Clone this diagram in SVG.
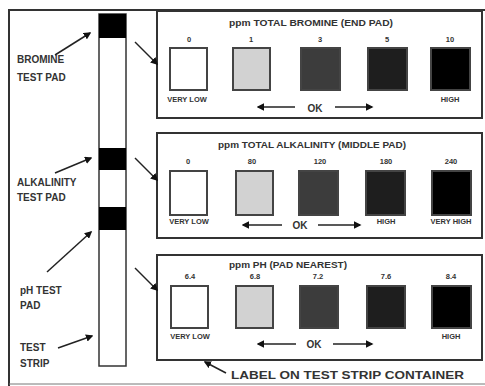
<svg xmlns="http://www.w3.org/2000/svg" width="485" height="386" viewBox="0 0 485 386">
<style>
.t{font-family:"Liberation Sans",Arial,sans-serif;font-weight:bold;fill:#333}
.s{font-size:7.5px}
.h{font-size:8.5px}
.l{font-size:10px}
.ln{stroke:#222;stroke-width:1.5;fill:none}
.panel{fill:#fff;stroke:#333;stroke-width:2}
.sw{stroke:#444;stroke-width:2}
</style>
<defs>
<marker id="ah" viewBox="0 0 10 10" refX="8" refY="5" markerWidth="5" markerHeight="5" orient="auto-start-reverse">
<path d="M0,0 L10,5 L0,10 z" fill="#111"/>
</marker>
</defs>
<rect x="0" y="0" width="485" height="386" fill="#fff"/>
<path d="M9,386 L9,10 L485,10" fill="none" stroke="#333" stroke-width="2"/>
<line x1="9" y1="384" x2="485" y2="384" stroke="#777" stroke-width="1"/>

<g id="strip">
<rect x="99" y="14" width="27" height="352" fill="#fff" stroke="#333" stroke-width="1.5"/>
<rect x="99" y="14" width="27" height="24" fill="#000"/>
<rect x="99" y="148" width="27" height="22" fill="#000"/>
<rect x="99" y="207" width="27" height="23" fill="#000"/>
</g>

<g id="label-bromine" class="t l"><text x="17" y="63">BROMINE</text><text x="17" y="81">TEST PAD</text></g>
<g id="label-alkalinity" class="t l"><text x="17" y="186">ALKALINITY</text><text x="17" y="201">TEST PAD</text></g>
<g id="label-ph" class="t l"><text x="20" y="294">pH TEST</text><text x="20" y="309">PAD</text></g>
<g id="label-strip" class="t l"><text x="20" y="351">TEST</text><text x="20" y="367">STRIP</text></g>

<g id="panel-bromine">
<rect class="panel" x="157" y="11" width="325" height="107"/>
<text class="t h" x="311" y="26" text-anchor="middle" textLength="164" lengthAdjust="spacingAndGlyphs">ppm TOTAL BROMINE (END PAD)</text>
<g class="t s" text-anchor="middle"><text x="189" y="42">0</text><text x="251" y="42">1</text><text x="320" y="42">3</text><text x="387" y="42">5</text><text x="450" y="42">10</text></g>
<rect class="sw" x="170" y="48" width="37" height="42" fill="#fff"/>
<rect class="sw" x="233" y="48" width="37" height="42" fill="#d2d2d2"/>
<rect class="sw" x="301" y="48" width="39" height="42" fill="#3c3c3c"/>
<rect class="sw" x="368" y="48" width="39" height="42" fill="#1e1e1e"/>
<rect class="sw" x="431" y="48" width="39" height="42" fill="#000"/>
<g class="t s" text-anchor="middle"><text x="187" y="102">VERY LOW</text><text x="450" y="102">HIGH</text><text x="315" y="112" font-size="10">OK</text></g>
</g>

<g id="panel-alkalinity">
<rect class="panel" x="157" y="133" width="325" height="105"/>
<text class="t h" x="312" y="148" text-anchor="middle" textLength="188" lengthAdjust="spacingAndGlyphs">ppm TOTAL ALKALINITY (MIDDLE PAD)</text>
<g class="t s" text-anchor="middle"><text x="188" y="164">0</text><text x="252" y="164">80</text><text x="320" y="164">120</text><text x="386" y="164">180</text><text x="451" y="164">240</text></g>
<rect class="sw" x="170" y="171" width="37" height="44" fill="#fff"/>
<rect class="sw" x="236" y="171" width="37" height="44" fill="#d2d2d2"/>
<rect class="sw" x="299" y="171" width="39" height="44" fill="#3c3c3c"/>
<rect class="sw" x="366" y="171" width="39" height="44" fill="#1e1e1e"/>
<rect class="sw" x="432" y="171" width="39" height="44" fill="#000"/>
<g class="t s" text-anchor="middle"><text x="189" y="224">VERY LOW</text><text x="386" y="224">HIGH</text><text x="451" y="224">VERY HIGH</text><text x="300" y="229" font-size="10">OK</text></g>
</g>

<g id="panel-ph">
<rect class="panel" x="157" y="255" width="325" height="105"/>
<text class="t h" x="288" y="268" text-anchor="middle" textLength="118" lengthAdjust="spacingAndGlyphs">ppm PH (PAD NEAREST)</text>
<g class="t s" text-anchor="middle"><text x="190" y="279">6.4</text><text x="255" y="279">6.8</text><text x="318" y="279">7.2</text><text x="386" y="279">7.6</text><text x="451" y="279">8.4</text></g>
<rect class="sw" x="171" y="286" width="37" height="42" fill="#fff"/>
<rect class="sw" x="236" y="286" width="37" height="42" fill="#d2d2d2"/>
<rect class="sw" x="300" y="286" width="38" height="42" fill="#3c3c3c"/>
<rect class="sw" x="367" y="286" width="38" height="42" fill="#1e1e1e"/>
<rect class="sw" x="432" y="286" width="39" height="42" fill="#000"/>
<g class="t s" text-anchor="middle"><text x="190" y="339">VERY LOW</text><text x="451" y="339">HIGH</text><text x="314" y="348" font-size="10">OK</text></g>
</g>

<g id="label-container"><text class="t" font-size="11" x="231" y="379" textLength="233" lengthAdjust="spacingAndGlyphs">LABEL ON TEST STRIP CONTAINER</text></g>

<g id="connectors" class="ln">
<line x1="55" y1="55" x2="90" y2="33" marker-end="url(#ah)"/>
<line x1="55" y1="173" x2="91" y2="158" marker-end="url(#ah)"/>
<line x1="47" y1="272" x2="91" y2="232" marker-end="url(#ah)"/>
<line x1="58" y1="348" x2="92" y2="336" marker-end="url(#ah)"/>
<line x1="135" y1="42" x2="157" y2="64" marker-end="url(#ah)"/>
<line x1="135" y1="158" x2="157" y2="180" marker-end="url(#ah)"/>
<line x1="135" y1="268" x2="157" y2="290" marker-end="url(#ah)"/>
<line x1="226" y1="373" x2="205" y2="362" marker-end="url(#ah)"/>
<line x1="295" y1="107" x2="258" y2="107" marker-end="url(#ah)"/>
<line x1="335" y1="107" x2="372" y2="107" marker-end="url(#ah)"/>
<line x1="282" y1="225" x2="243" y2="225" marker-end="url(#ah)"/>
<line x1="318" y1="225" x2="360" y2="225" marker-end="url(#ah)"/>
<line x1="296" y1="344" x2="258" y2="344" marker-end="url(#ah)"/>
<line x1="333" y1="344" x2="372" y2="344" marker-end="url(#ah)"/>
</g>
</svg>
